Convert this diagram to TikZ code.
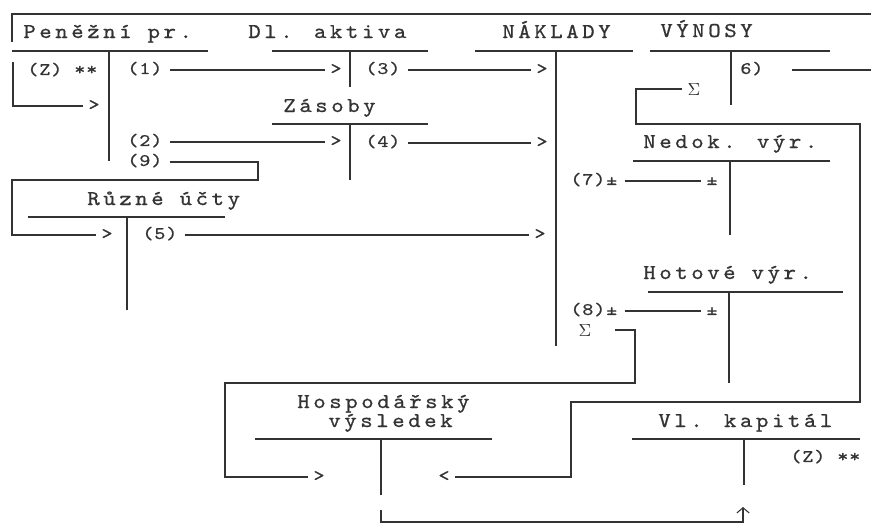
\documentclass[tikz,border=0pt]{standalone}
\usepackage{fontspec}
\usepackage{tikz}
\usetikzlibrary{arrows.meta}
\newfontfamily\hdfont{lmmono10-regular}[Extension=.otf,FakeStretch=1.12,FakeBold=0.8,LetterSpace=17]
\newfontfamily\lbfont{lmmono10-regular}[Extension=.otf,FakeStretch=1.2,FakeBold=0.8,LetterSpace=5]
\definecolor{ink}{gray}{0.2}

\begin{document}
\begin{tikzpicture}[x=0.02cm, y=-0.02cm,
    acct/.style = {font=\hdfont\fontsize{12}{14}\selectfont, text=ink, inner sep=0pt, anchor=base west},
    lbl/.style = {font=\lbfont\fontsize{10}{12}\selectfont, text=ink, inner xsep=4pt, inner ysep=0pt, text height=6pt, text depth=1.5pt, anchor=west},
    chev/.style = {lbl, inner xsep=3pt, anchor=center},
    sigma/.style = {text=ink, inner xsep=3pt, inner ysep=0pt, font=\normalsize},
    rule/.style = {draw=ink, line width=0.6pt},
    flow/.style = {draw=ink, line width=0.6pt}]
\useasboundingbox (0,0) rectangle (871,524);

\draw[rule] (12,42) -- (12,14) -- (871,14);

\node[acct] (penize) at (23,38) {Peněžní pr.};
\node[acct] (dlakt) at (248,38) {Dl. aktiva};
\node[acct] (naklady) at (502,38) {NÁKLADY};
\node[acct] (vynosy) at (660,37) {VÝNOSY};
\node[acct] (zasoby) at (283,112) {Zásoby};
\node[acct] (nedok) at (643,148) {Nedok. výr.};
\node[acct] (ruzne) at (87,205) {Různé účty};
\node[acct] (hotove) at (643,279) {Hotové výr.};
\node[acct] (hv) at (297,408) {Hospodářský};
\node[acct] (hv2) at (328,427) {výsledek};
\node[acct] (vlkap) at (658,427) {Vl. kapitál};

\draw[rule] (12,51) -- (208,51);   \draw[rule] (109,51) -- (109,161);
\draw[rule] (272,51) -- (428,51);  \draw[rule] (350,51) -- (350,87);
\draw[rule] (475,51) -- (633,51);  \draw[rule] (556,51) -- (556,346);
\draw[rule] (650,51) -- (830,51);  \draw[rule] (731,51) -- (731,105);
\draw[rule] (272,124) -- (428,124); \draw[rule] (350,124) -- (350,180);
\draw[rule] (633,161) -- (830,161); \draw[rule] (730,161) -- (730,235);
\draw[rule] (28,217) -- (225,217);  \draw[rule] (127,217) -- (127,310);
\draw[rule] (648,292) -- (843,292); \draw[rule] (729,292) -- (729,383);
\draw[rule] (255,439) -- (492,439); \draw[rule] (381,439) -- (381,495);
\draw[rule] (632,439) -- (860,439); \draw[rule] (744,439) -- (744,485);

\node[lbl] (zpen) at (20,71) {(Z) **};
\node[lbl] (l1) at (120,70) {(1)};
\node[lbl] (l2) at (120,142) {(2)};
\node[lbl] (l9) at (120,162) {(9)};
\node[lbl] (l3) at (358,70) {(3)};
\node[lbl] (l4) at (358,143) {(4)};
\node[lbl] (l5) at (135,235) {(5)};
\node[lbl] (l6) at (733,70) {6)};
\node[lbl] (l7) at (563,181) {(7)±};
\node[lbl] (l8) at (563,311) {(8)±};
\node[lbl] (zkap) at (783,458) {(Z) **};
\node[sigma] (sigu) at (694,89) {$\Sigma$};
\node[sigma] (sigl) at (585,330) {$\Sigma$};

\node[chev] (g0) at (94,106) {>};
\node[chev] (g1) at (336,70) {>};
\node[chev] (g2) at (336,142) {>};
\node[chev] (g3) at (542,70) {>};
\node[chev] (g4) at (542,143) {>};
\node[chev] (g9) at (107,235) {>};
\node[chev] (g5) at (540,235) {>};
\node[chev] (gh) at (319,477) {>};
\node[chev] (gl) at (444,477) {<};
\node[chev] (pm7) at (712,181) {±};
\node[chev] (pm8) at (712,311) {±};

\coordinate (zin) at (13,62);
\coordinate (hvout) at (381,510);
\coordinate (vkin) at (743,507);

\draw[flow] (zin) |- (g0);
\draw[flow] (l1) -- (g1);
\draw[flow] (l2) -- (g2);
\draw[flow] (l3) -- (g3);
\draw[flow] (l4) -- (g4);
\draw[flow] (l9) -- (258,162) -- (258,180) -- (12,180) |- (g9);
\draw[flow] (l5) -- (g5);
\draw[flow, shorten <=12pt] (l6) -- (871,70);
\draw[flow] (sigu) -- (636,89) -- (636,124) -- (860,124) -- (860,402) -- (571,402) |- (gl);
\draw[flow] (l7) -- (pm7);
\draw[flow] (l8) -- (pm8);
\draw[flow, shorten <=10pt] (sigl) -- (635,330) -- (635,383) -- (225,383) |- (gh);
\draw[flow, -{Straight Barb[length=3pt,width=7pt]}] (hvout) |- (743,522) -- (vkin);
\end{tikzpicture}
\end{document}
